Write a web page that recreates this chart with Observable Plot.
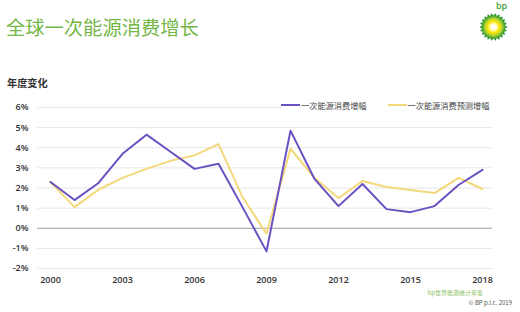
<!DOCTYPE html>
<html><head><meta charset="utf-8">
<script src="https://cdn.jsdelivr.net/npm/d3@7"></script>
<script src="https://cdn.jsdelivr.net/npm/@observablehq/plot@0.6"></script>
<style>
body{margin:0;width:520px;height:312px;overflow:hidden;background:#fff;font-family:"Noto Sans CJK SC","Noto Sans",sans-serif;position:relative}
#title{position:absolute;left:6px;top:13px;font-size:19.3px;color:#74b646;letter-spacing:0;white-space:nowrap;line-height:28px}
#ylabel{position:absolute;left:7px;top:76px;font-size:10.2px;font-weight:700;color:#333;line-height:14px;white-space:nowrap}
#chart{position:absolute;left:0;top:95px}
#legend{position:absolute;left:281px;top:98px;width:213px;height:14px;background:#fff;font-size:8.2px;color:#444;display:flex;align-items:center;white-space:nowrap}
.sw{display:inline-block;width:19px;height:2px;margin-right:1px}
.item{display:flex;align-items:center}
#cap1{position:absolute;right:37px;top:289px;font-size:6px;color:#8cc063;white-space:nowrap;line-height:8px}
#cap2{position:absolute;right:8px;top:299px;font-size:6px;color:#555;white-space:nowrap;line-height:8px}
#logo{position:absolute;left:474px;top:0px}
</style></head><body>
<div id="title">全球一次能源消费增长</div>
<div id="ylabel">年度变化</div>
<div id="chart"></div>
<div id="legend"></div>
<div id="cap1">bp世界能源统计年鉴</div>
<div id="cap2">© BP p.l.c. 2019</div>
<div id="logo"></div>
<script>
const years = [2000,2001,2002,2003,2004,2005,2006,2007,2008,2009,2010,2011,2012,2013,2014,2015,2016,2017,2018];
const consumption = [2.3,1.4,2.25,3.7,4.65,3.8,2.95,3.2,1.05,-1.15,4.85,2.45,1.1,2.2,0.95,0.8,1.1,2.15,2.9];
const forecast = [2.3,1.05,1.92,2.5,2.95,3.35,3.62,4.18,1.55,-0.27,3.95,2.5,1.5,2.35,2.05,1.9,1.75,2.5,1.95];
const seriesNames = ["一次能源消费增幅","一次能源消费预测增幅"];
const seriesColors = ["#6a50c0","#f4d87a"];
const xTicks = [2000,2003,2006,2009,2012,2015,2018];
const yTicks = [-2,-1,0,1,2,3,4,5,6];

const data = years.flatMap((yr,i)=>[
  {year:yr,value:forecast[i],s:seriesNames[1]},
  {year:yr,value:consumption[i],s:seriesNames[0]}
]);
const ordered = [...data.filter(d=>d.s===seriesNames[1]), ...data.filter(d=>d.s===seriesNames[0])];

const chart = Plot.plot({
  width:520, height:200,
  marginTop:12, marginBottom:27, marginLeft:37, marginRight:28,
  style:{fontSize:"9px",fontFamily:"'Open Sans','Noto Sans',sans-serif",color:"#333",fontWeight:"600",background:"transparent"},
  x:{domain:[1999.458,2018.417]},
  y:{domain:[-2,6]},
  color:{domain:seriesNames,range:seriesColors},
  marks:[
    Plot.gridY(yTicks.filter(d=>d!==0),{stroke:"#e6e6e6",strokeOpacity:1,strokeWidth:1}),
    Plot.ruleY([0],{stroke:"#9b9b9b",strokeWidth:1.2}),
    Plot.axisX(xTicks,{tickSize:0,tickPadding:8,tickFormat:d=>String(d),label:null}),
    Plot.axisY(yTicks,{tickSize:0,tickPadding:9,tickFormat:d=>d+"%",label:null}),
    Plot.line(ordered,{x:"year",y:"value",z:"s",stroke:"s",strokeWidth:2})
  ]
});
document.getElementById("chart").appendChild(chart);

const legend = document.getElementById("legend");
seriesNames.forEach((n,i)=>{
  const it = document.createElement("div");
  it.className="item";
  if(i===1) it.style.marginLeft="21px";
  it.innerHTML = `<span class="sw" style="background:${seriesColors[i]}"></span><span>${n}</span>`;
  legend.appendChild(it);
});

// bp logo decoration
(function(){
  const cx=19.5, cy=27, n=22;
  let pts=[];
  for(let k=0;k<n*2;k++){
    const r = k%2===0 ? 14 : 11.5;
    const a = Math.PI*k/n;
    pts.push((cx+r*Math.cos(a)).toFixed(2)+","+(cy+r*Math.sin(a)).toFixed(2));
  }
  document.getElementById("logo").innerHTML =
  `<svg width="46" height="44" xmlns="http://www.w3.org/2000/svg">
   <defs><radialGradient id="g" cx="50%" cy="50%" r="50%">
     <stop offset="0%" stop-color="#ffffff"/>
     <stop offset="22%" stop-color="#fffbd0"/>
     <stop offset="40%" stop-color="#ffe800"/>
     <stop offset="60%" stop-color="#b6d630"/>
     <stop offset="82%" stop-color="#3f9f32"/>
     <stop offset="100%" stop-color="#178a2c"/>
   </radialGradient></defs>
   <polygon points="${pts.join(" ")}" fill="url(#g)"/>
   <text x="22" y="9" font-size="9" font-family="Open Sans,sans-serif" fill="#3f9f32" font-weight="600">bp</text>
  </svg>`;
})();
</script>
</body></html>
